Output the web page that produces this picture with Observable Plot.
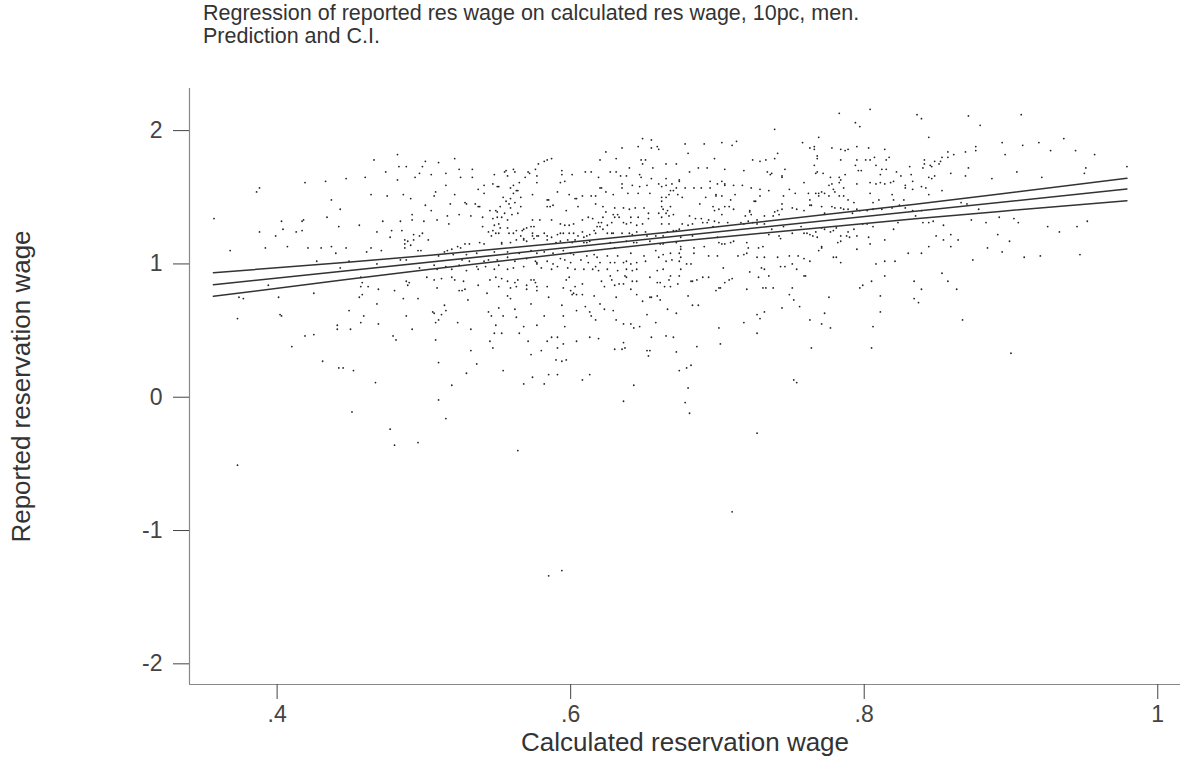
<!DOCTYPE html>
<html><head><meta charset="utf-8">
<script src="https://cdn.jsdelivr.net/npm/d3@7"></script>
<script src="https://cdn.jsdelivr.net/npm/@observablehq/plot@0.6"></script>
<style>
body{margin:0;background:#fff;font-family:"Liberation Sans",Arial,sans-serif;}
#title{height:60px;box-sizing:border-box;padding:2px 0 0 203px;font-size:21.5px;line-height:23px;color:#333;white-space:nowrap;}
#chart svg{display:block;}
</style></head><body>
<div id="title">Regression of reported res wage on calculated res wage, 10pc, men.<br>Prediction and C.I.</div>
<div id="chart"></div>
<script>
// Observations: calculated reservation wage (x) and reported reservation wage (y)
const calcWage = [
0.466,0.482,0.483,0.488,0.501,0.499,0.474,0.482,0.460,0.447,0.433,0.419,0.388,0.386,0.464,0.475,0.486,0.491,0.507,0.508,0.505,0.497,0.494,0.437,0.443,0.434,0.418,0.417,0.403,0.357,0.388,0.404,0.413,0.417,0.399,0.442,0.456,0.472,0.484,0.492,0.500,0.501,0.505,0.492,0.468,0.478,0.477,0.485,0.493,0.499,0.487,0.489,0.493,0.497,0.503,0.487,0.491,0.368,0.392,0.407,0.421,0.430,0.437,0.447,0.440,0.461,0.464,0.471,0.487,0.496,0.498,0.427,0.443,0.449,0.468,0.484,0.488,0.497,
0.394,0.374,0.377,0.401,0.425,0.457,0.458,0.457,0.462,0.469,0.480,0.456,0.458,0.488,0.489,0.490,0.502,0.507,0.486,0.496,0.509,0.468,0.449,0.459,0.488,0.506,0.507,0.373,0.402,0.403,0.441,0.441,0.450,0.457,0.469,0.492,0.508,0.419,0.425,0.479,0.481,0.508,
0.410,0.431,0.442,0.445,0.452,0.467,0.451,0.477,0.480,0.496,0.373,
0.649,0.655,0.624,0.635,0.646,0.655,0.659,0.660,0.521,0.510,0.582,0.584,0.587,0.578,0.576,0.620,0.631,0.648,0.651,0.649,0.656,0.665,0.672,0.640,0.631,0.556,0.555,0.561,0.562,0.571,0.572,0.569,0.557,0.548,0.533,0.524,0.515,0.525,0.533,0.594,0.594,0.601,0.610,0.614,0.619,0.627,0.634,0.638,0.647,0.648,0.655,0.665,0.674,0.565,0.561,0.577,0.577,0.593,0.596,0.547,0.550,0.551,0.515,0.541,0.537,0.620,0.621,0.635,0.635,0.642,0.647,0.652,0.660,0.662,0.665,0.669,0.672,0.668,0.670,0.521,0.541,0.529,0.528,0.535,0.518,0.538,0.559,0.561,0.563,0.564,0.554,0.556,0.559,0.566,0.552,0.558,0.562,0.566,0.549,0.559,0.574,0.591,0.599,0.603,0.604,0.608,0.614,0.617,0.624,0.629,0.639,0.646,0.654,0.662,0.665,0.667,0.673,0.662,0.662,0.663,0.668,0.666,0.665,0.667,0.670,0.660,0.653,0.650,0.644,0.640,0.636,0.630,0.605,0.617,0.622,0.624,0.629,0.632,0.641,0.646,0.653,0.662,0.667,0.662,0.636,0.638,0.641,0.645,0.649,
0.516,0.524,0.532,0.540,0.547,0.550,0.553,0.557,0.560,0.564,0.555,0.550,0.545,0.537,0.584,0.586,0.588,0.597,0.584,0.585,0.574,0.579,0.587,0.593,0.596,0.599,0.602,0.608,0.612,0.615,0.619,0.621,0.622,0.620,0.625,0.628,0.630,0.633,0.628,0.625,0.622,0.618,0.517,0.509,0.540,0.548,0.551,0.552,0.547,0.549,0.551,0.544,0.546,0.557,0.561,0.558,0.563,0.568,0.567,0.570,0.573,0.575,0.566,0.568,0.574,0.574,0.575,0.577,0.578,0.582,0.584,0.587,0.591,0.593,0.595,0.599,0.602,0.605,0.608,0.609,0.611,0.613,0.616,0.617,0.629,0.635,0.640,0.642,0.645,0.651,0.652,0.658,0.663,0.666,0.670,0.672,0.674,
0.541,0.538,0.531,0.528,0.525,0.523,0.519,0.516,0.514,0.553,0.553,0.559,0.563,0.568,0.570,0.584,0.590,0.593,0.598,0.601,0.603,0.609,0.611,0.613,0.627,0.630,0.638,0.643,0.645,0.654,0.661,0.663,0.672,0.510,0.520,0.529,0.536,0.548,0.557,0.565,0.573,0.577,0.582,0.588,0.595,0.600,0.602,0.611,0.616,0.618,0.625,0.632,0.641,0.650,0.658,0.663,0.668,0.674,0.526,0.531,0.541,0.544,0.550,0.557,0.562,0.570,0.576,0.577,0.584,0.588,0.593,0.596,0.600,0.607,0.612,0.617,0.620,0.627,0.630,0.636,0.638,0.641,0.645,0.651,0.660,0.665,0.669,0.674,
0.507,0.509,0.515,0.519,0.524,0.529,0.536,0.537,0.542,0.548,0.551,0.557,0.561,0.568,0.577,0.580,0.587,0.591,0.598,0.603,0.609,0.615,0.619,0.625,0.632,0.638,0.642,0.645,0.659,0.663,0.675,0.512,0.519,0.521,0.527,0.545,0.549,0.553,0.557,0.562,0.564,0.573,0.575,0.576,0.597,0.599,0.603,0.608,0.621,0.627,0.628,0.633,0.637,0.638,0.642,0.645,0.654,0.659,0.661,0.667,0.668,0.674,
0.524,0.526,0.528,0.530,0.537,0.543,0.551,0.559,0.563,0.570,0.570,0.577,0.577,0.584,0.595,0.600,0.601,0.602,0.604,0.608,0.616,0.623,0.630,0.631,0.636,0.641,0.645,0.649,0.654,0.659,0.664,0.668,0.673,0.510,0.512,0.514,0.515,0.523,0.532,0.544,0.546,0.549,0.551,0.554,0.557,0.559,0.562,0.563,0.568,0.573,0.577,0.582,0.585,0.594,0.595,0.596,0.604,0.610,0.613,0.614,0.617,0.620,0.623,0.629,0.631,0.636,0.641,0.643,0.647,0.652,0.655,0.658,0.661,0.666,0.672,0.545,0.548,0.553,0.565,0.571,0.584,0.587,0.591,0.595,0.604,0.613,0.619,0.636,0.655,0.665,0.670,
0.532,0.547,0.573,0.580,0.591,0.590,0.594,0.597,0.510,0.536,0.529,0.554,0.574,0.585,0.591,0.568,0.582,0.608,0.613,0.519,0.510,0.515,0.564,0.594,0.585,0.630,0.635,0.637,0.652,0.654,0.653,0.672,0.674,0.643,0.636,
0.686,0.682,0.679,0.680,0.678,0.681,0.727,0.710,0.764,0.805,0.752,0.754,0.900,
0.783,0.804,0.836,0.839,0.794,0.797,0.739,0.769,0.678,0.691,0.703,0.710,0.713,0.758,0.763,0.766,0.766,0.778,0.784,0.787,0.789,0.795,0.803,0.814,0.680,0.698,0.724,0.729,0.733,0.739,0.741,0.768,0.768,0.784,0.795,0.801,0.804,0.807,0.815,0.817,0.841,0.841,0.705,0.718,0.734,0.736,0.737,0.746,0.766,0.768,0.767,0.772,0.777,0.783,0.787,0.794,0.796,0.798,0.808,0.812,0.815,0.811,0.822,0.825,0.831,0.832,0.840,0.681,0.687,0.693,0.674,0.695,0.700,0.703,0.705,0.705,0.711,0.717,0.723,0.729,0.735,0.744,0.744,0.749,0.759,0.762,0.767,0.769,0.771,0.773,0.776,0.778,0.779,0.780,0.783,0.784,0.786,0.795,0.804,0.808,0.811,0.814,0.818,0.820,0.828,0.828,0.839,0.842,
0.678,0.684,0.689,0.695,0.699,0.699,0.692,0.676,0.703,0.712,0.709,0.725,0.726,0.729,0.745,0.753,0.763,0.763,0.769,0.776,0.783,0.786,0.789,0.793,0.804,0.806,0.810,0.819,0.820,0.827,0.833,0.833,0.833,0.839,0.688,0.697,0.698,0.701,0.703,0.681,0.685,0.689,0.694,0.698,0.705,0.708,0.711,0.719,0.722,0.723,0.722,0.727,0.732,0.738,0.739,0.741,0.742,0.744,0.744,0.751,0.754,0.759,0.764,0.771,0.773,0.778,0.780,0.784,0.786,0.789,0.792,0.795,0.797,0.802,0.806,0.812,0.819,0.824,0.828,0.835,0.840,0.823,0.820,0.806,0.802,0.799,0.793,0.789,0.788,0.784,0.781,0.779,0.777,0.773,0.771,0.767,0.763,0.759,0.757,0.745,0.742,0.737,0.732,0.727,0.724,0.721,0.718,0.716,0.707,0.701,0.697,0.693,0.690,0.683,0.680,0.676,
0.683,0.675,0.700,0.709,0.711,0.720,0.721,0.728,0.731,0.735,0.743,0.751,0.761,0.765,0.768,0.771,0.782,0.784,0.790,0.795,0.803,0.804,0.814,0.830,0.675,0.675,0.684,0.684,0.691,0.701,0.703,0.705,0.694,0.700,0.714,0.718,0.720,0.727,0.732,0.741,0.749,0.755,0.759,0.763,0.769,0.771,0.779,0.781,0.784,0.795,0.808,0.814,0.821,0.839,0.675,0.679,0.682,
0.682,0.683,0.686,0.690,0.694,0.704,0.705,0.708,0.710,0.701,0.699,0.702,0.720,0.722,0.728,0.730,0.732,0.731,0.733,0.738,0.735,0.743,0.746,0.751,0.754,0.759,0.760,0.751,0.749,0.752,0.756,0.744,0.732,0.727,0.729,0.718,0.701,0.702,0.727,0.763,0.771,0.773,0.777,0.776,0.797,0.799,0.805,0.806,0.811,0.814,0.811,0.834,0.834,0.837,0.839,0.680,0.683,0.687,
0.871,0.907,0.879,0.844,0.894,0.908,0.919,0.936,0.876,0.876,0.857,0.861,0.869,0.896,0.927,0.944,0.957,0.853,0.857,0.848,0.852,0.851,0.845,0.846,0.871,0.859,0.869,0.844,0.846,0.848,0.887,0.904,0.921,0.951,0.950,0.979,0.844,0.853,0.866,0.870,0.878,0.873,0.883,0.892,0.902,0.905,0.844,0.847,0.854,0.925,0.933,0.945,0.952,0.849,0.854,0.859,0.864,0.891,0.899,0.844,0.859,0.884,0.894,0.874,0.909,0.920,0.947,0.853,0.857,0.863,0.867
];
const reportedWage = [
1.78,1.82,1.73,1.73,1.77,1.73,1.69,1.63,1.65,1.64,1.62,1.61,1.57,1.54,1.52,1.51,1.52,1.49,1.51,1.54,1.67,1.68,1.65,1.48,1.41,1.35,1.33,1.32,1.32,1.34,1.24,1.26,1.24,1.25,1.21,1.28,1.29,1.32,1.32,1.33,1.32,1.44,1.40,1.37,1.24,1.25,1.20,1.25,1.22,1.23,1.18,1.17,1.18,1.21,1.18,1.15,1.14,1.10,1.12,1.13,1.12,1.12,1.13,1.12,1.08,1.09,1.12,1.10,1.12,1.10,1.10,1.02,0.97,1.02,1.00,1.03,1.03,0.97,
0.84,0.75,0.74,0.75,0.78,0.90,0.86,0.83,0.83,0.81,0.80,0.75,0.77,0.87,0.84,0.86,0.90,0.88,0.74,0.74,0.82,0.70,0.65,0.61,0.61,0.64,0.63,0.59,0.62,0.61,0.54,0.51,0.51,0.56,0.55,0.51,0.56,0.46,0.47,0.46,0.43,0.43,
0.38,0.27,0.22,0.22,0.20,0.11,-0.11,-0.24,-0.36,-0.34,-0.51,
1.94,1.93,1.84,1.87,1.88,1.87,1.88,1.86,1.79,1.76,1.77,1.78,1.79,1.75,1.71,1.78,1.79,1.78,1.78,1.75,1.72,1.75,1.75,1.72,1.69,1.70,1.69,1.71,1.69,1.69,1.68,1.65,1.66,1.67,1.71,1.71,1.68,1.65,1.65,1.70,1.67,1.67,1.69,1.69,1.65,1.69,1.66,1.66,1.67,1.65,1.64,1.64,1.63,1.61,1.59,1.61,1.66,1.61,1.62,1.60,1.58,1.58,1.59,1.59,1.56,1.57,1.57,1.60,1.57,1.59,1.58,1.59,1.60,1.58,1.59,1.60,1.57,1.55,1.55,1.52,1.53,1.45,1.46,1.45,1.45,1.43,1.57,1.53,1.55,1.55,1.50,1.47,1.49,1.50,1.43,1.45,1.46,1.43,1.40,1.42,1.52,1.54,1.52,1.49,1.49,1.51,1.51,1.51,1.54,1.52,1.53,1.53,1.53,1.50,1.50,1.52,1.52,1.47,1.43,1.41,1.43,1.40,1.38,1.36,1.37,1.38,1.38,1.42,1.42,1.41,1.42,1.42,1.43,1.45,1.43,1.39,1.37,1.37,1.35,1.35,1.34,1.35,1.30,1.30,1.31,1.30,1.31,1.29,1.30,
1.36,1.37,1.36,1.35,1.34,1.35,1.35,1.33,1.37,1.38,1.38,1.39,1.40,1.43,1.43,1.43,1.44,1.40,1.48,1.48,1.33,1.33,1.33,1.30,1.29,1.29,1.30,1.33,1.35,1.34,1.31,1.31,1.35,1.28,1.29,1.31,1.35,1.35,1.23,1.23,1.26,1.28,1.30,1.33,1.28,1.29,1.30,1.27,1.25,1.23,1.23,1.24,1.21,1.27,1.23,1.23,1.25,1.26,1.25,1.27,1.28,1.28,1.21,1.19,1.23,1.21,1.19,1.21,1.21,1.23,1.21,1.20,1.22,1.23,1.23,1.23,1.23,1.21,1.24,1.20,1.21,1.22,1.25,1.23,1.23,1.23,1.23,1.22,1.24,1.24,1.21,1.21,1.21,1.24,1.25,1.25,1.26,
1.15,1.16,1.15,1.15,1.12,1.13,1.11,1.10,1.09,1.16,1.15,1.16,1.18,1.18,1.17,1.18,1.16,1.17,1.18,1.16,1.18,1.16,1.16,1.17,1.16,1.12,1.17,1.16,1.16,1.17,1.15,1.15,1.16,1.06,1.07,1.07,1.08,1.09,1.09,1.08,1.10,1.08,1.09,1.08,1.10,1.08,1.07,1.06,1.07,1.05,1.06,1.06,1.08,1.06,1.10,1.07,1.08,1.08,1.03,1.02,1.02,1.03,1.03,1.05,1.02,1.04,1.02,1.01,1.02,1.00,1.04,1.03,1.01,1.03,1.01,0.98,1.01,1.01,1.01,1.01,1.02,1.00,1.01,1.02,1.05,1.02,1.03,1.02,
0.99,0.96,0.98,0.96,0.99,0.95,0.98,0.96,0.98,0.96,0.99,0.96,0.97,0.98,1.00,0.97,0.96,0.98,0.97,0.96,0.96,0.96,0.95,0.96,0.95,0.96,0.95,0.96,0.95,0.96,0.96,0.89,0.90,0.88,0.87,0.88,0.90,0.89,0.87,0.86,0.88,0.88,0.88,0.86,0.88,0.90,0.83,0.85,0.87,0.91,0.88,0.85,0.91,0.90,0.87,0.87,0.90,0.86,0.86,0.88,0.91,0.91,
0.80,0.80,0.81,0.73,0.84,0.78,0.83,0.82,0.83,0.84,0.81,0.83,0.80,0.83,0.82,0.80,0.77,0.78,0.77,0.77,0.76,0.83,0.84,0.75,0.85,0.81,0.77,0.72,0.75,0.76,0.83,0.83,0.85,0.58,0.62,0.69,0.65,0.56,0.51,0.64,0.61,0.54,0.67,0.61,0.76,0.74,0.66,0.60,0.53,0.70,0.54,0.61,0.75,0.69,0.61,0.53,0.65,0.68,0.64,0.61,0.58,0.70,0.66,0.65,0.58,0.55,0.55,0.52,0.53,0.62,0.75,0.56,0.73,0.66,0.63,0.42,0.48,0.48,0.48,0.42,0.42,0.45,0.45,0.40,0.42,0.45,0.44,0.41,0.45,0.46,0.45,
0.35,0.37,0.32,0.35,0.37,0.28,0.27,0.28,0.26,0.25,0.18,0.20,0.15,0.17,0.17,0.10,0.10,0.13,0.17,0.09,-0.02,-0.16,-0.40,-1.30,-1.34,0.36,0.36,0.37,0.35,0.35,0.31,0.34,0.20,0.09,-0.03,
0.38,0.24,0.22,0.07,-0.04,-0.12,-0.27,-0.86,0.37,0.37,0.13,0.11,0.33,
2.13,2.16,2.12,2.09,2.06,2.03,2.01,1.95,1.90,1.90,1.91,1.89,1.92,1.91,1.87,1.86,1.88,1.87,1.86,1.85,1.86,1.88,1.87,1.86,1.83,1.79,1.78,1.77,1.78,1.79,1.83,1.81,1.79,1.78,1.78,1.78,1.78,1.80,1.78,1.80,1.78,1.75,1.71,1.70,1.69,1.67,1.68,1.71,1.74,1.69,1.68,1.68,1.65,1.65,1.67,1.74,1.70,1.70,1.74,1.71,1.71,1.67,1.69,1.66,1.73,1.67,1.72,1.69,1.72,1.72,1.62,1.62,1.60,1.62,1.60,1.59,1.59,1.59,1.57,1.56,1.55,1.66,1.65,1.56,1.61,1.53,1.53,1.53,1.54,1.53,1.59,1.60,1.56,1.54,1.61,1.63,1.57,1.60,1.61,1.60,1.61,1.60,1.61,1.62,1.59,1.57,1.58,1.57,
1.57,1.57,1.57,1.57,1.51,1.52,1.50,1.50,1.51,1.52,1.48,1.47,1.47,1.51,1.51,1.53,1.48,1.44,1.51,1.51,1.51,1.51,1.48,1.46,1.53,1.46,1.48,1.52,1.48,1.48,1.56,1.62,1.40,1.40,1.45,1.43,1.40,1.41,1.37,1.36,1.34,1.34,1.33,1.32,1.43,1.43,1.41,1.36,1.39,1.37,1.40,1.33,1.36,1.36,1.39,1.40,1.37,1.45,1.41,1.42,1.41,1.40,1.44,1.43,1.38,1.43,1.42,1.42,1.41,1.41,1.38,1.41,1.40,1.40,1.41,1.41,1.42,1.44,1.42,1.36,1.31,1.31,1.26,1.28,1.30,1.30,1.26,1.24,1.21,1.21,1.27,1.25,1.24,1.26,1.27,1.24,1.22,1.23,1.28,1.28,1.21,1.26,1.30,1.30,1.31,1.32,1.30,1.31,1.31,1.31,1.28,1.31,1.31,1.30,1.29,1.30,
1.21,1.20,1.20,1.16,1.17,1.16,1.12,1.12,1.13,1.22,1.19,1.23,1.23,1.21,1.20,1.13,1.16,1.17,1.20,1.21,1.20,1.15,1.18,1.08,1.13,1.11,1.12,1.08,1.13,1.16,1.15,1.15,1.06,1.06,1.06,1.07,1.08,1.05,1.05,1.05,1.06,1.06,1.04,1.02,1.10,1.12,1.05,1.05,1.01,1.11,1.00,1.02,1.02,1.08,1.05,1.00,1.00,
0.87,0.87,0.88,0.90,0.90,0.97,0.86,0.88,0.89,0.82,0.80,0.82,0.81,0.94,0.90,0.97,0.96,0.82,0.82,0.82,0.91,0.98,0.98,1.00,0.96,0.91,0.91,0.82,0.77,0.73,0.68,0.67,0.64,0.62,0.59,0.56,0.52,0.40,0.48,0.58,0.55,0.63,0.52,0.75,0.82,0.84,0.87,0.53,0.76,0.91,0.64,0.87,0.74,0.71,0.81,0.76,0.69,0.69,
2.11,2.12,2.04,1.95,1.91,1.89,1.91,1.94,1.88,1.85,1.84,1.82,1.84,1.82,1.85,1.85,1.82,1.80,1.80,1.77,1.77,1.75,1.74,1.73,1.72,1.68,1.66,1.65,1.64,1.66,1.64,1.69,1.65,1.72,1.68,1.73,1.52,1.55,1.46,1.45,1.41,1.33,1.31,1.35,1.34,1.31,1.31,1.32,1.29,1.28,1.24,1.28,1.32,1.21,1.18,1.22,1.18,1.22,1.17,1.13,1.13,1.12,1.09,1.03,1.05,1.06,1.07,0.93,0.87,0.81,0.58
];

// Fitted prediction and confidence interval
const fitX = [0.3566, 0.979];
const fitY = [0.844, 1.562];
const ciX = [0.3566, 0.5044, 0.6748, 0.8348, 0.979];
const ciHi = [0.934, 1.065, 1.247, 1.447, 1.642];
const ciLo = [0.757, 0.960, 1.172, 1.339, 1.474];

const xTicks = [0.4, 0.6, 0.8, 1];
const yTicks = [-2, -1, 0, 1, 2];
const xDomain = [0.3403, 1.0155];
const yDomain = [-2.155, 2.316];

const points = calcWage.map((x, i) => ({x, y: reportedWage[i]}));
const fit = fitX.map((x, i) => ({x, y: fitY[i]}));
const band = ciX.map((x, i) => ({x, hi: ciHi[i], lo: ciLo[i]}));

const ink = "#333";
const plot = Plot.plot({
  width: 1184,
  height: 698,
  marginTop: 28,
  marginBottom: 74,
  marginLeft: 189,
  marginRight: 4,
  style: {fontFamily: "'Liberation Sans', Arial, sans-serif", background: "#fff", color: ink},
  x: {domain: xDomain},
  y: {domain: yDomain},
  marks: [
    Plot.ruleX([xDomain[0]], {stroke: "#888", strokeWidth: 1.2}),
    Plot.ruleY([yDomain[0]], {stroke: "#888", strokeWidth: 1.2}),
    Plot.axisY({ticks: yTicks, tickSize: 16, tickPadding: 11, fontSize: 23, color: "#444", label: null,
      tickFormat: d => (d < 0 ? "-" + Math.abs(d) : String(d))}),
    Plot.axisX({ticks: xTicks, tickSize: 15, tickPadding: 6, fontSize: 23, color: "#444", label: null,
      tickFormat: d => (d === 1 ? "1" : String(d).replace(/^0\./, "."))}),
    Plot.dot(points, {x: "x", y: "y", r: 0.9, fill: "#222", stroke: "none"}),
    Plot.line(band, {x: "x", y: "hi", stroke: ink, strokeWidth: 1.5, curve: "catmull-rom"}),
    Plot.line(fit, {x: "x", y: "y", stroke: ink, strokeWidth: 1.5}),
    Plot.line(band, {x: "x", y: "lo", stroke: ink, strokeWidth: 1.5, curve: "catmull-rom"}),
    Plot.text(["Calculated reservation wage"], {frameAnchor: "bottom", dy: 58, text: d => d, fontSize: 26, fill: "#333", lineAnchor: "middle", textAnchor: "middle"}),
    Plot.text(["Reported reservation wage"], {frameAnchor: "left", dx: -168, rotate: -90, text: d => d, fontSize: 26, fill: "#333", lineAnchor: "middle", textAnchor: "middle"})
  ]
});
document.getElementById("chart").appendChild(plot);
</script>
</body></html>
